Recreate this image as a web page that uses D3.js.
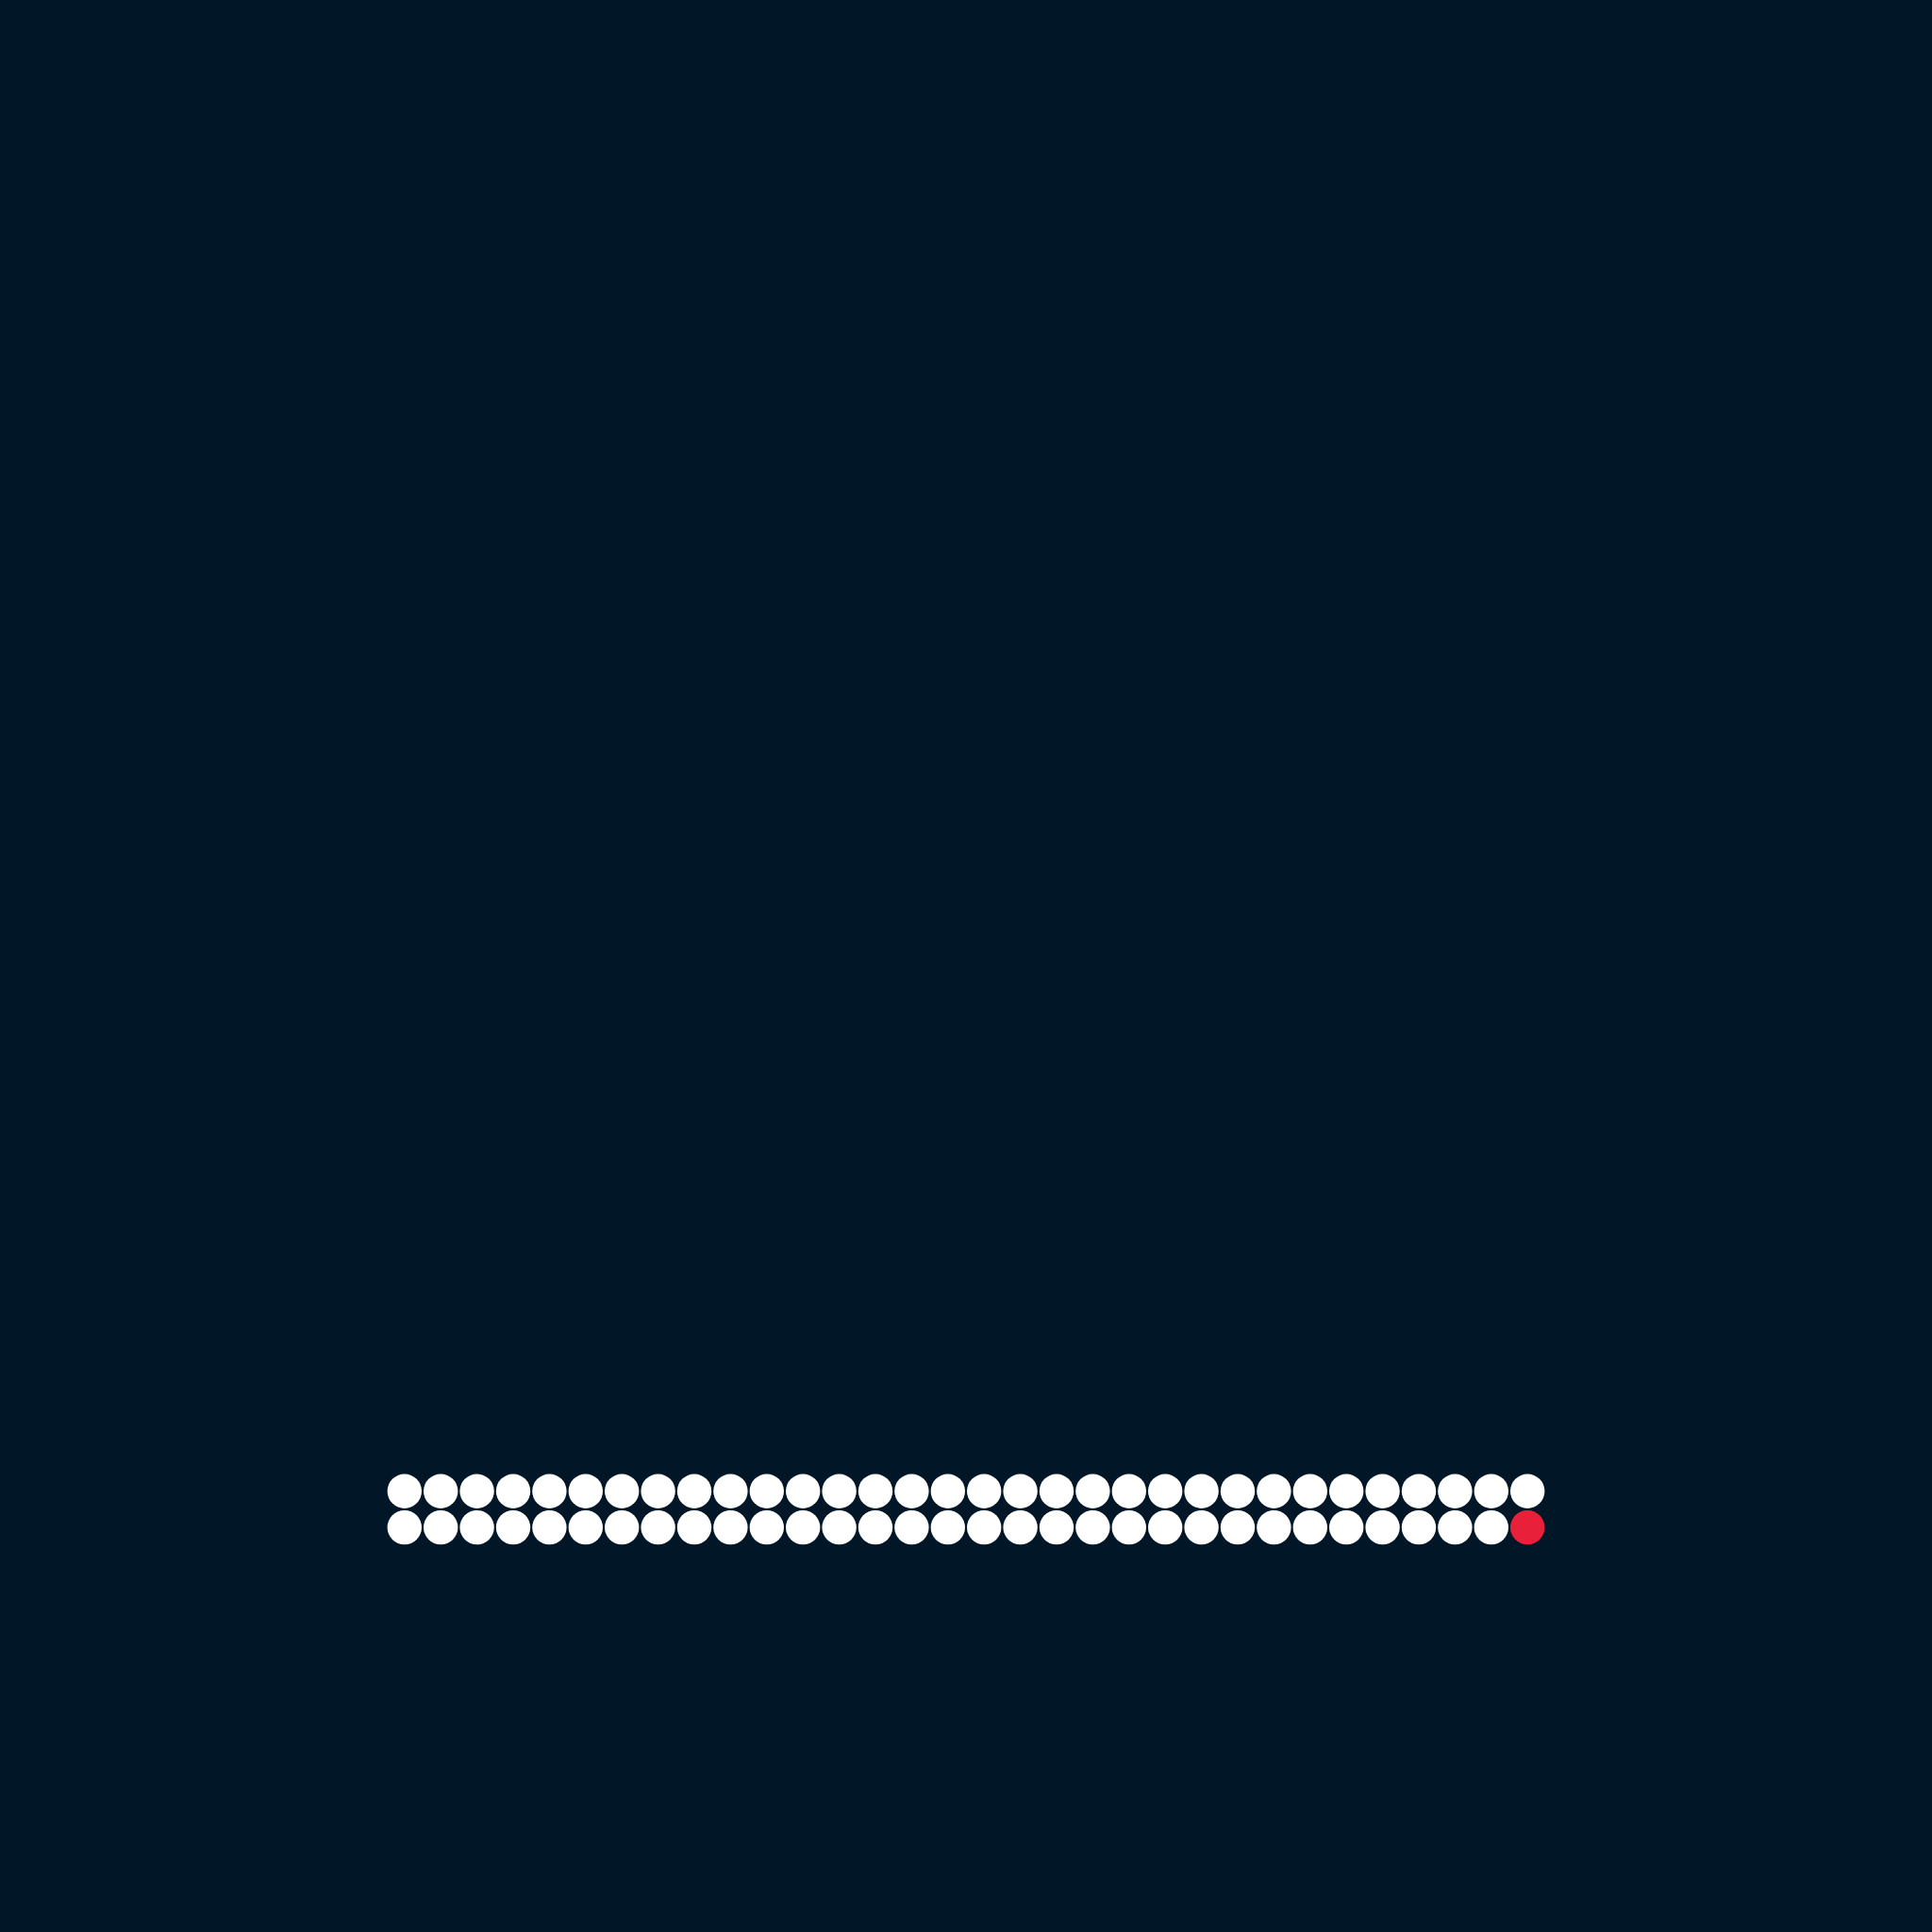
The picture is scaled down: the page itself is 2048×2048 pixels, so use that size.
<!DOCTYPE html>
<html>
<head>
<meta charset="utf-8">
<script src="https://cdn.jsdelivr.net/npm/d3@7"></script>
<style>
  html, body { margin: 0; padding: 0; background: #011627; }
</style>
</head>
<body>
<svg id="chart"></svg>
<script>
// waffle: 64 dots, 1 highlighted
const total = 64;
const highlighted = 1;
const columns = d3.range(32);
const rows = d3.range(2);

const width = 2048;
const height = 2048;

const svg = d3.select("#chart")
    .attr("width", width)
    .attr("height", height);

svg.append("rect")
    .attr("width", width)
    .attr("height", height)
    .attr("fill", "#011627");

const step = 38.4;
const x = d3.scaleBand()
    .domain(columns)
    .range([width / 2 - step * columns.length / 2, width / 2 + step * columns.length / 2]);

const y = d3.scaleBand()
    .domain(rows)
    .range([1561.5, 1561.5 + step * rows.length]);

const r = step / 2 - 1;

const dots = d3.range(total).map(i => ({
    col: i % columns.length,
    row: Math.floor(i / columns.length),
    hit: i >= total - highlighted
}));

svg.append("g")
    .selectAll("circle")
    .data(dots)
    .join("circle")
    .attr("cx", d => x(d.col) + x.bandwidth() / 2)
    .attr("cy", d => y(d.row) + y.bandwidth() / 2)
    .attr("r", r)
    .attr("fill", d => d.hit ? "#e8203a" : "#ffffff");
</script>
</body>
</html>
